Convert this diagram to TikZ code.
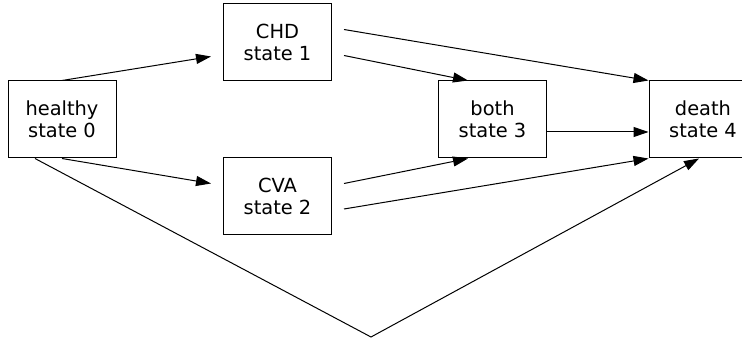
\documentclass[tikz,border=0pt]{standalone}
\usepackage{fontspec}
\setmainfont{DejaVu Sans}
\usetikzlibrary{arrows.meta}
\begin{document}
\begin{tikzpicture}[x=0.5pt,y=-0.5pt,line width=0.5pt,>={Triangle[length=7.5pt,width=5pt]},
	box/.style={draw,minimum width=54pt,minimum height=38.5pt,inner sep=0pt,align=center,font=\fontsize{9.7}{11}\selectfont}]
\useasboundingbox (0,0) rectangle (742,341);
\clip (0,0) rectangle (742,341);
% the five states
\foreach \n/\x/\y/\a/\b in {healthy/62/119.5/healthy/0,chd/277.5/42.5/CHD/1,cva/277.5/196.5/CVA/2,both/492.5/119.5/both/3,death/703/119.5/death/4}{
	\node[box] (\n) at (\x,\y) {\a\\state \b};}
\coordinate (low) at (371,337);
% transitions
\draw[->] (healthy.north) -- ([shift={(-12,14)}]chd.west);
\draw[->] (healthy.south) -- ([shift={(-12,-13)}]cva.west);
\draw[->] ([shift={(-27,0)}]healthy.south) -- (low) -- ([shift={(-4,0)}]death.south);
\draw[->] ([shift={(12,13)}]chd.east) -- ([shift={(30,0)}]both.north west);
\draw[->] ([shift={(12,-13)}]chd.east) -- (death.north west);
\draw[->] ([shift={(12,-13)}]cva.east) -- ([shift={(30,0)}]both.south west);
\draw[->] ([shift={(12,12.5)}]cva.east) -- (death.south west);
\draw[->] ([shift={(0,12.5)}]both.east) -- ([shift={(0,12.5)}]death.west);
\end{tikzpicture}
\end{document}
